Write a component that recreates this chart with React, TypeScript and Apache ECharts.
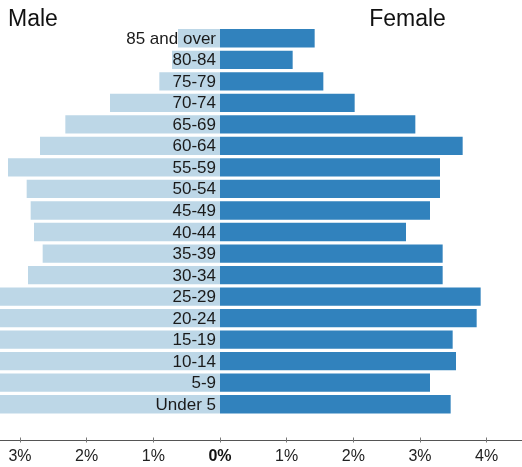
import React, { useEffect, useRef } from "react";
import * as echarts from "echarts";

const ageGroups = [
  "85 and over", "80-84", "75-79", "70-74", "65-69", "60-64", "55-59", "50-54", "45-49",
  "40-44", "35-39", "30-34", "25-29", "20-24", "15-19", "10-14", "5-9", "Under 5",
];
const maleValues = [
  0.63, 0.72, 0.91, 1.65, 2.32, 2.7, 3.18, 2.9, 2.84,
  2.79, 2.66, 2.88, 3.9, 3.85, 3.6, 3.65, 3.4, 3.6,
];
const femaleValues = [
  1.42, 1.09, 1.55, 2.02, 2.93, 3.64, 3.3, 3.3, 3.15,
  2.79, 3.34, 3.34, 3.91, 3.85, 3.49, 3.54, 3.15, 3.46,
];
const tickValues = [-3, -2, -1, 0, 1, 2, 3, 4];

const FONT = "Liberation Sans";

export default function App() {
  const ref = useRef<HTMLDivElement>(null);
  useEffect(() => {
    const chart = echarts.init(ref.current!, null, { renderer: "svg" });
    const xMin = -3.3;
    const xMax = 4.53;
    chart.setOption({
      animation: false,
      textStyle: { fontFamily: FONT },
      graphic: [
        {
          type: "text",
          left: 8,
          top: 6,
          style: { text: "Male", fontSize: 23, fontFamily: FONT, fill: "#111" },
        },
        {
          type: "text",
          x: 407.5,
          y: 6,
          style: { text: "Female", fontSize: 23, fontFamily: FONT, fill: "#111", textAlign: "center", textVerticalAlign: "top" },
        },
      ],
      grid: { left: 0, right: 0, top: 27.5, bottom: 52, containLabel: false },
      xAxis: [
        {
          type: "value",
          position: "bottom",
          min: xMin,
          max: xMax,
          offset: 25,
          splitLine: { show: false },
          axisLine: { show: true, lineStyle: { color: "#555", width: 1.2 } },
          axisTick: { show: true, customValues: tickValues, length: 2.5, lineStyle: { color: "#777" } },
          axisLabel: {
            customValues: tickValues,
            margin: 7,
            fontSize: 16,
            color: "#222",
            fontFamily: FONT,
            formatter: (v: number) => (v === 0 ? "{b|0%}" : Math.abs(v) + "%"),
            rich: { b: { fontWeight: "bold", fontSize: 16, color: "#111", fontFamily: FONT } },
          },
        },
        {
          type: "value",
          position: "bottom",
          min: xMin,
          max: xMax,
          offset: 25,
          splitLine: { show: false },
          axisLine: { show: false },
          axisTick: { show: true, inside: true, customValues: tickValues, length: 2.5, lineStyle: { color: "#777" } },
          axisLabel: { show: false },
        },
      ],
      yAxis: {
        type: "category",
        data: ageGroups,
        inverse: true,
        offset: -220,
        z: 10,
        axisLine: { show: false },
        axisTick: { show: false },
        axisLabel: { interval: 0, margin: 4, fontSize: 17, color: "#1a1a1a", fontFamily: FONT },
      },
      series: [
        {
          name: "Male",
          type: "bar",
          data: maleValues.map((v) => -v),
          barGap: "-100%",
          barCategoryGap: "15%",
          itemStyle: { color: "#bdd7e7" },
          clip: true,
        },
        {
          name: "Female",
          type: "bar",
          data: femaleValues,
          barGap: "-100%",
          barCategoryGap: "15%",
          itemStyle: { color: "#3182bd" },
          clip: true,
        },
      ],
    });
    return () => chart.dispose();
  }, []);
  return (
    <div
      ref={ref}
      style={{ position: "fixed", left: 0, top: 0, width: 522, height: 467 }}
    />
  );
}
